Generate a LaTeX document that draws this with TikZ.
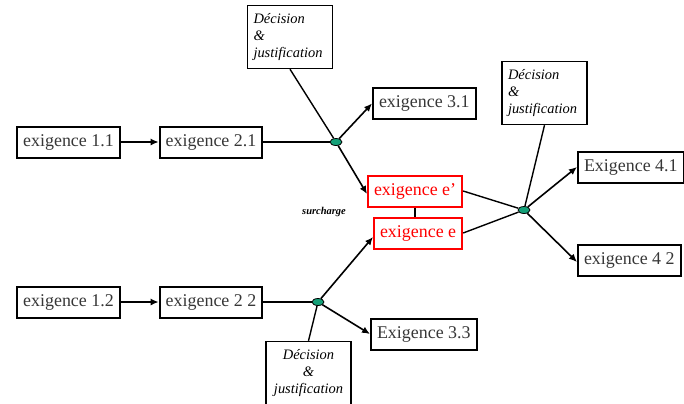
\documentclass[tikz,border=0pt]{standalone}
\usepackage{fontspec}
\setmainfont{Liberation Serif}
\usetikzlibrary{shapes.geometric, arrows.meta, positioning}
\definecolor{hubgreen}{RGB}{20,160,120}
\definecolor{overred}{RGB}{255,0,0}
\definecolor{reqtext}{RGB}{55,55,55}

\begin{document}
\begin{tikzpicture}[x=1bp, y=-1bp,
    box/.style={rectangle, draw, line width=2bp, fill=white, text=reqtext,
                minimum height=31bp, inner xsep=6bp,
                font=\fontsize{18}{20}\selectfont},
    redbox/.style={box, draw=overred, text=overred},
    note/.style={rectangle, draw, line width=1.4bp, fill=white,
                 minimum width=85bp, minimum height=63bp, text width=73bp,
                 align=left, font=\fontsize{14.5}{17.5}\selectfont\itshape},
    hub/.style={ellipse, draw, fill=hubgreen, line width=0.8bp,
                minimum width=12bp, minimum height=7bp, inner sep=0pt},
    arr/.style={-{Latex[length=8bp, width=7bp]}, line width=1.6bp},
    link/.style={line width=1.4bp},
]
\useasboundingbox (0,0) rectangle (684,403);

% Upper branch
\node[box] at (68.5,142) (req11) {exigence 1.1};
\node[box] at (211,142) (req21) {exigence 2.1};
\node[hub] at (336,142) (hub1) {};
\node[note] at (290,37) (dec1) {Décision\\\&\\justification};
\node[box, anchor=west] at (372,103.5) (req31) {exigence 3.1};

% Lower branch
\node[box] at (68.5,302) (req12) {exigence 1.2};
\node[box] at (211,302) (req22) {exigence 2 2};
\node[hub] at (318,302) (hub3) {};
\node[note, align=center] at (308.5,373) (dec3) {Décision\\\&\\justification};
\node[box, anchor=west] at (370,334) (req33) {Exigence 3.3};

% Overloaded requirement
\node[redbox, anchor=west] at (367,191) (reqep) {exigence e'};
\node[redbox, anchor=west] at (373,233) (reqe) {exigence e};
\node[font=\fontsize{10.5}{12}\selectfont\bfseries\itshape] at (324,212) (surch) {surcharge};

% Right branch
\node[hub] at (524,210) (hub2) {};
\node[note] at (544.5,93) (dec2) {Décision\\\&\\justification};
\node[box, anchor=west] at (577,167) (req41) {Exigence 4.1};
\node[box, anchor=west] at (577,260) (req42) {exigence 4 2};

% Connectors
\draw[arr] (req11) -- (req21);
\draw[arr] (req12) -- (req22);
\draw[link] (req21) -- (hub1);
\draw[link] (req22) -- (hub3);
\draw[link] (dec1.south) -- (hub1);
\draw[link] (dec3.north) -- (hub3);
\draw[link] (dec2.south) -- (hub2);
\draw[arr] (hub1) -- (req31.west);
\draw[arr] (hub1) -- ([yshift=-3bp]reqep.west);
\draw[arr] (hub3) -- ([yshift=-4bp]reqe.west);
\draw[arr] (hub3) -- (req33.west);
\draw[link] (reqep.south) -- (reqep.south |- reqe.north);
\draw[link] (reqep.east) -- (hub2);
\draw[link] (reqe.east) -- (hub2);
\draw[arr] (hub2) -- (req41.west);
\draw[arr] (hub2) -- ([yshift=-2bp]req42.west);

\end{tikzpicture}
\end{document}
